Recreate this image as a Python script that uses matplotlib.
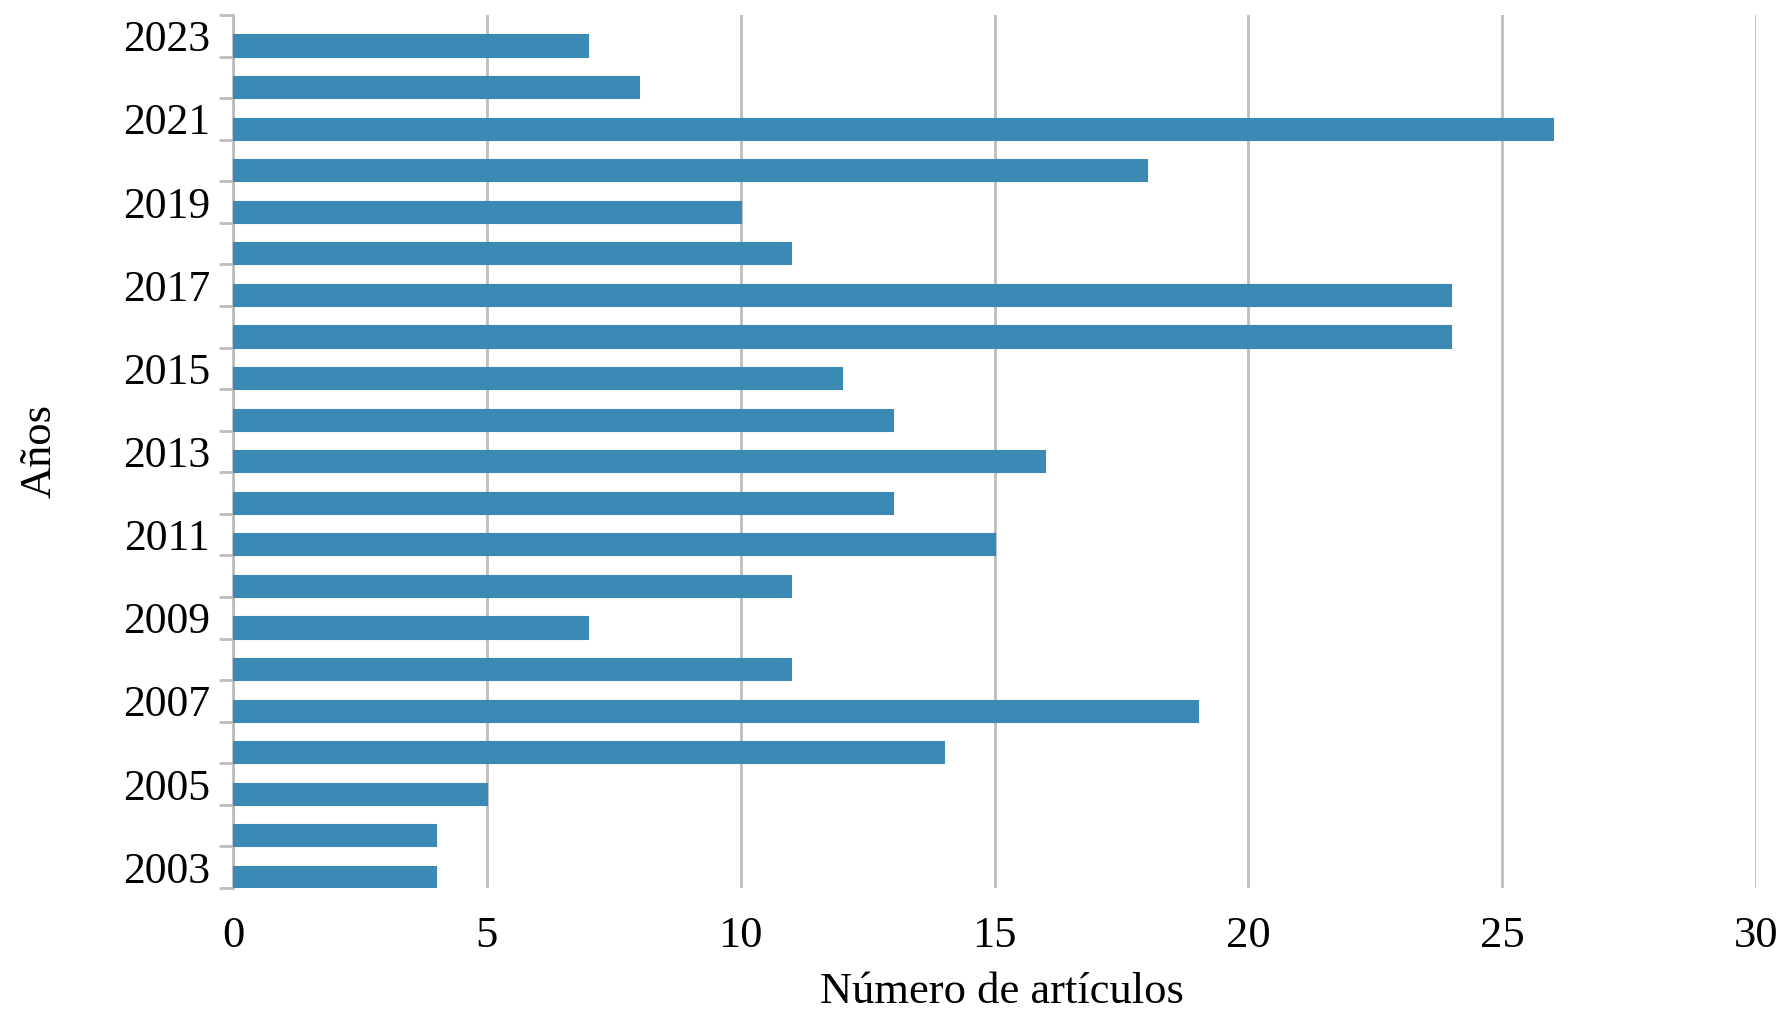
import matplotlib
matplotlib.use("Agg")
import matplotlib.pyplot as plt
import numpy as np

years = list(range(2003, 2024))
articles = [4, 4, 5, 14, 19, 11, 7, 11, 15, 13, 16, 13, 12, 24, 24, 11, 10, 18, 26, 8, 7]
x_ticks = [0, 5, 10, 15, 20, 25, 30]
label_years = [y for y in years if (y - 2003) % 2 == 0]

plt.rcParams['font.family'] = ['Liberation Serif', 'DejaVu Serif']

fig = plt.figure(figsize=(17.82, 10.24), dpi=100)
ax = fig.add_axes([233/1782, 1 - 888/1024, (1756 - 233)/1782, (888 - 15)/1024])

pos = np.arange(len(years))
ax.barh(pos - 0.5, articles, height=0.51, align='edge', color='#3B89B5',
        edgecolor='#3B89B5', linewidth=1.5, zorder=3)

ax.set_xlim(0, 30)
ax.set_ylim(-0.5, len(years) - 0.5)

ax.set_xticks(x_ticks)
ax.set_xticklabels([str(t) for t in x_ticks], fontsize=32)
ax.tick_params(axis='x', length=0, pad=20)
ax.xaxis.grid(True, color='#BDBDBD', linewidth=2, zorder=0)

# tick marks at category boundaries, labels at category centers
ax.set_yticks(np.arange(-0.5, len(years), 1.0))
ax.set_yticklabels([])
ax.tick_params(axis='y', which='major', length=10, width=2, color='#BDBDBD')
ax.set_yticks([years.index(y) for y in label_years], minor=True)
ax.set_yticklabels([str(y) for y in label_years], minor=True, fontsize=31.5)
ax.tick_params(axis='y', which='minor', length=0, pad=16.5)

for s in ['top', 'right', 'bottom']:
    ax.spines[s].set_visible(False)
ax.spines['left'].set_color('#BDBDBD')
ax.spines['left'].set_linewidth(2)

ax.set_xlabel('Número de artículos', fontsize=32)
ax.xaxis.set_label_coords((1002 - 233)/1523, -(1012 - 888)/873)
ax.xaxis.label.set_va('bottom')
ax.set_ylabel('Años', fontsize=32)
ax.yaxis.set_label_coords(-(233 - 60)/1523, 0.5)

fig.savefig('out.png', dpi=100)
